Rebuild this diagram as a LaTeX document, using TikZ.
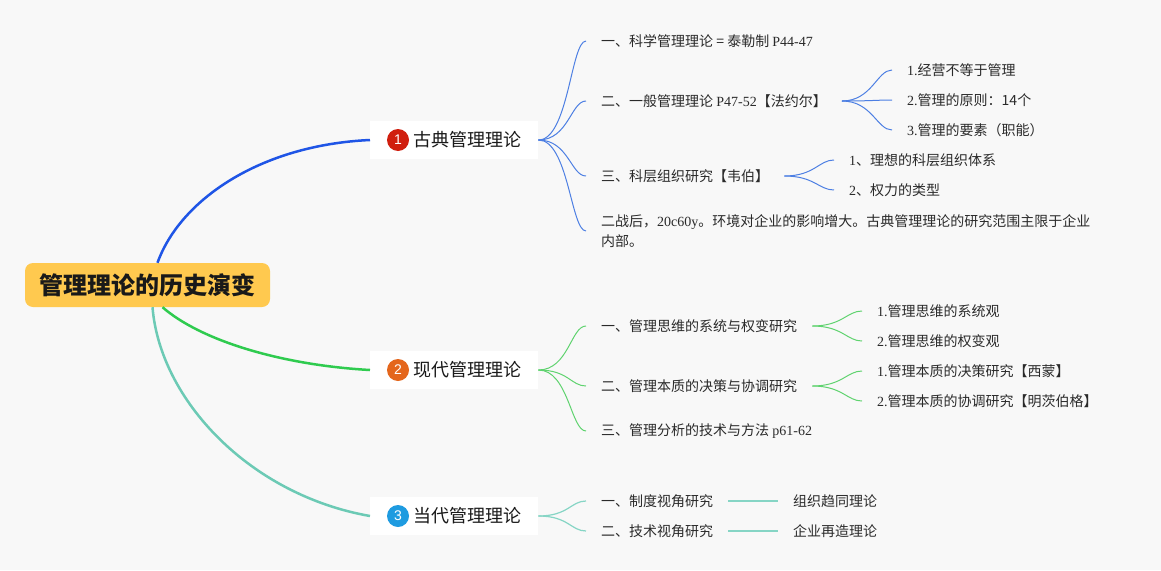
\documentclass[tikz,border=0pt]{standalone}
\usepackage{fontspec}
\setmainfont{Liberation Serif}
\newfontfamily\cjk{Noto Sans CJK SC}
\newfontfamily\numfont{Liberation Sans}
\usetikzlibrary{positioning}
\definecolor{bgcol}{HTML}{F8F8F8}
\definecolor{rootfill}{HTML}{FFC94F}
\definecolor{textgray}{HTML}{2A2A2A}
\definecolor{bluethick}{HTML}{1F55E6}
\definecolor{greenthick}{HTML}{2FCB4F}
\definecolor{tealthick}{HTML}{6CCAB5}
\definecolor{bluethin}{HTML}{4D7FE3}
\definecolor{greenthin}{HTML}{5FD36F}
\definecolor{tealthin}{HTML}{86D5C5}
\definecolor{badgered}{HTML}{D01E0E}
\definecolor{badgeorange}{HTML}{E4661C}
\definecolor{badgeblue}{HTML}{1E9BE0}
\tikzstyle{root} = [rectangle, rounded corners=8pt,
minimum width=245pt,
minimum height=44pt,
fill=rootfill,
text=black!90,
font=\cjk\bfseries\fontsize{24}{28}\selectfont]
\tikzstyle{topic} = [rectangle, anchor=west,
minimum height=38pt,
inner xsep=17pt,
fill=white,
text=black!90,
font=\cjk\fontsize{18}{22}\selectfont]
\tikzstyle{badge} = [circle, inner sep=0pt,
minimum size=22pt,
text=white,
font=\numfont\fontsize{14}{16}\selectfont]
\tikzstyle{leaf} = [anchor=west, align=left,
inner xsep=15pt, inner ysep=2pt,
text=textgray,
font=\cjk\fontsize{14}{20}\selectfont]
\tikzstyle{curvy} = [to path={.. controls +(30,0) and +(-15,0) .. (\tikztotarget)}]
\tikzstyle{thinblue} = [line width=1pt, draw=bluethin]
\tikzstyle{thingreen} = [line width=1pt, draw=greenthin]
\tikzstyle{thinteal} = [line width=1.2pt, draw=tealthin]
\begin{document}
\begin{tikzpicture}[x=1pt, y=-1pt]

\fill[bgcol] (0,0) rectangle (1161,570);
\useasboundingbox (0,0) rectangle (1161,570);

\node (root) [root] at (147.5,285) {管理理论的历史演变};

\node (c1) [topic] at (370,140) {\hspace*{26pt}古典管理理论};
\node (c2) [topic] at (370,370) {\hspace*{26pt}现代管理理论};
\node (c3) [topic] at (370,516) {\hspace*{26pt}当代管理理论};
\node (b1) [badge, fill=badgered] at ([xshift=28pt]c1.west) {1};
\node (b2) [badge, fill=badgeorange] at ([xshift=28pt]c2.west) {2};
\node (b3) [badge, fill=badgeblue] at ([xshift=28pt]c3.west) {3};

% classical
\node (c1a) [leaf] at (586,41) {一、科学管理理论 = 泰勒制 {\rmfamily P44-47}};
\node (c1b) [leaf] at (586,101) {二、一般管理理论 {\rmfamily P47-52}【法约尔】};
\node (c1c) [leaf] at (586,176) {三、科层组织研究【韦伯】};
\node (c1d) [leaf] at (586,231) {二战后，{\rmfamily 20c60y}。环境对企业的影响增大。古典管理理论的研究范围主限于企业\\内部。};
\node (c1b1) [leaf] at (892,70) {{\rmfamily 1.}经营不等于管理};
\node (c1b2) [leaf] at (892,100) {{\rmfamily 2.}管理的原则：14个};
\node (c1b3) [leaf] at (892,130) {{\rmfamily 3.}管理的要素（职能）};
\node (c1c1) [leaf] at (834,160) {{\rmfamily 1}、理想的科层组织体系};
\node (c1c2) [leaf] at (834,190) {{\rmfamily 2}、权力的类型};

% modern
\node (c2a) [leaf] at (586,326) {一、管理思维的系统与权变研究};
\node (c2b) [leaf] at (586,386) {二、管理本质的决策与协调研究};
\node (c2c) [leaf] at (586,431) {三、管理分析的技术与方法 {\rmfamily p61-62}};
\node (c2a1) [leaf] at (862,311) {{\rmfamily 1.}管理思维的系统观};
\node (c2a2) [leaf] at (862,341) {{\rmfamily 2.}管理思维的权变观};
\node (c2b1) [leaf] at (862,371) {{\rmfamily 1.}管理本质的决策研究【西蒙】};
\node (c2b2) [leaf] at (862,401) {{\rmfamily 2.}管理本质的协调研究【明茨伯格】};

% contemporary
\node (c3a) [leaf] at (586,501) {一、制度视角研究};
\node (c3b) [leaf] at (586,531) {二、技术视角研究};
\node (c3a1) [leaf] at (778,501) {组织趋同理论};
\node (c3b1) [leaf] at (778,531) {企业再造理论};

\draw [line width=2.5pt, bluethick] ([xshift=10pt]root.north) .. controls (180,200) and (260,145) .. (c1.west);
\draw [line width=2.5pt, greenthick] ([xshift=15pt]root.south) .. controls (200,340) and (280,365) .. (c2.west);
\draw [line width=2.5pt, tealthick] ([xshift=5pt]root.south) .. controls (160,400) and (250,495) .. (c3.west);

\draw [thinblue] (c1.east) to[curvy] (c1a.west);
\draw [thinblue] (c1.east) to[curvy] (c1b.west);
\draw [thinblue] (c1.east) to[curvy] (c1c.west);
\draw [thinblue] (c1.east) to[curvy] (c1d.west);
\draw [thinblue] (c1b.east) to[curvy] (c1b1.west);
\draw [thinblue] (c1b.east) to[curvy] (c1b2.west);
\draw [thinblue] (c1b.east) to[curvy] (c1b3.west);
\draw [thinblue] (c1c.east) to[curvy] (c1c1.west);
\draw [thinblue] (c1c.east) to[curvy] (c1c2.west);

\draw [thingreen] (c2.east) to[curvy] (c2a.west);
\draw [thingreen] (c2.east) to[curvy] (c2b.west);
\draw [thingreen] (c2.east) to[curvy] (c2c.west);
\draw [thingreen] (c2a.east) to[curvy] (c2a1.west);
\draw [thingreen] (c2a.east) to[curvy] (c2a2.west);
\draw [thingreen] (c2b.east) to[curvy] (c2b1.west);
\draw [thingreen] (c2b.east) to[curvy] (c2b2.west);

\draw [thinteal] (c3.east) to[curvy] (c3a.west);
\draw [thinteal] (c3.east) to[curvy] (c3b.west);
\draw [thinteal] (c3a.east) -- (c3a1.west);
\draw [thinteal] (c3b.east) -- (c3b1.west);

\end{tikzpicture}
\end{document}
